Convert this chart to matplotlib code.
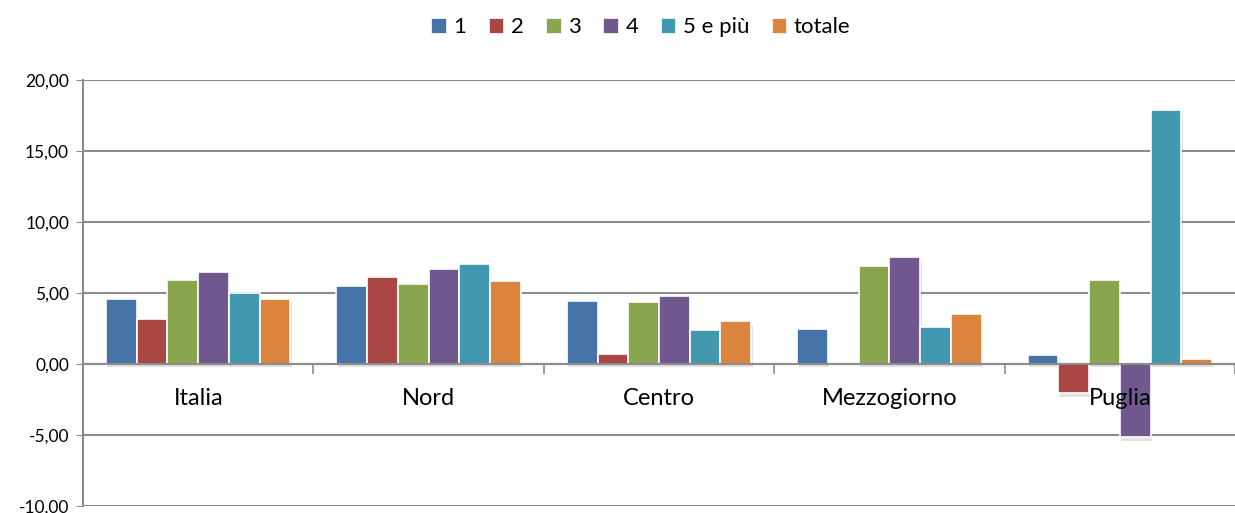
import numpy as np
import matplotlib.pyplot as plt
import matplotlib.patheffects as pe
from matplotlib.patches import Patch
from matplotlib.ticker import FuncFormatter

plt.rcParams['font.family'] = ['Lato', 'DejaVu Sans']

categories = ["Italia", "Nord", "Centro", "Mezzogiorno", "Puglia"]
series = ["1", "2", "3", "4", "5 e più", "totale"]
s1 = [4.58, 5.49, 4.41, 2.49, 0.65]
s2 = [3.19, 6.13, 0.73, 0.0, -2.07]
s3 = [5.92, 5.65, 4.37, 6.92, 5.94]
s4 = [6.50, 6.69, 4.79, 7.51, -5.17]
s5 = [5.00, 7.04, 2.42, 2.60, 17.89]
tot = [4.58, 5.82, 3.00, 3.54, 0.37]
values = [s1, s2, s3, s4, s5, tot]
colors = ["#4572A7", "#AA4643", "#89A54E", "#71588F", "#4198AF", "#DB843D"]

fig = plt.figure(figsize=(12.35, 5.13), dpi=100)
ax = fig.add_axes([0.0672, 0.0136, 0.9328, 0.8305])

x = np.arange(len(categories))
w = 1 / 7.5
shadow = [pe.SimplePatchShadow(offset=(1, -2.5), alpha=0.18, shadow_rgbFace="#606060"), pe.Normal()]
for i, (vals, c) in enumerate(zip(values, colors)):
    bars = ax.bar(x + (i - 2.5) * w, vals, w, color=c, edgecolor="white", linewidth=1.2, zorder=3)
    for b in bars:
        b.set_path_effects(shadow)

ax.set_ylim(-10, 20)
ax.set_xlim(-0.5, 4.5)
ax.set_yticks(np.arange(-10, 21, 5))
ax.yaxis.set_major_formatter(FuncFormatter(lambda v, p: f"{v:.2f}".replace(".", ",")))
ax.grid(axis="y", color="#8c8c8c", lw=1.5, zorder=0)
ax.tick_params(axis="y", direction="out", length=5, color="#8c8c8c", labelsize=12.5, pad=5)

for s in ["top", "right"]:
    ax.spines[s].set_visible(False)
ax.spines["left"].set_color("#8c8c8c")
ax.spines["left"].set_linewidth(1.5)
ax.spines["bottom"].set_position(("data", 0))
ax.spines["bottom"].set_color("#8c8c8c")
ax.spines["bottom"].set_linewidth(1.5)
ax.spines["bottom"].set_zorder(4)
ax.set_xticks(np.arange(-0.5, 4.6, 1.0))
ax.set_xticklabels([])
ax.tick_params(axis="x", direction="out", length=7, color="#8c8c8c", width=1.2)

for xi, name in zip(x, categories):
    ax.text(xi, -2.4, name, ha="center", va="center", fontsize=17, zorder=5)

handles = [Patch(facecolor=c, edgecolor="white", lw=0.5) for c in colors]
fig.legend(handles, series, loc="center", bbox_to_anchor=(0.519, 0.947), ncol=6, frameon=False,
           fontsize=16, handlelength=0.65, handleheight=0.65, handletextpad=0.35, columnspacing=1.0)

fig.savefig("out.png", dpi=100)
